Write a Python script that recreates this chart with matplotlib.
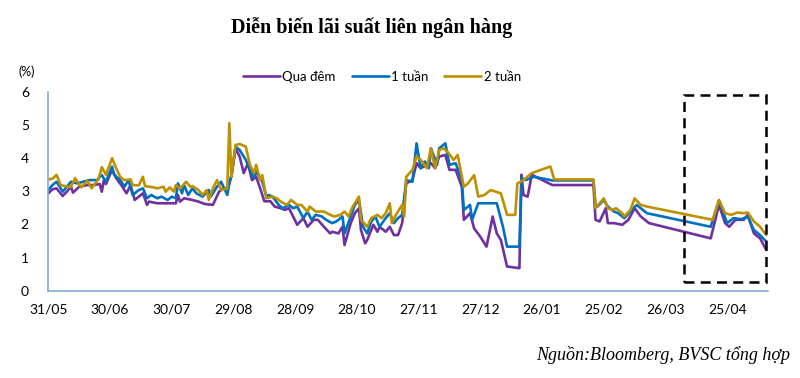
import numpy as np
import matplotlib
matplotlib.use('Agg')
import matplotlib.pyplot as plt
import matplotlib.dates as mdates
from matplotlib.patches import Rectangle

#### DATA (days counted from 31/05/2023)

start = np.datetime64('2023-05-31')

days_on = [0, 2, 4, 7, 9, 11, 12, 15, 19, 22, 25, 26, 27, 28, 31, 33, 36, 38, 40, 42, 45, 46, 48, 49,
	53, 56, 59, 62, 63, 64, 66, 70, 73, 76, 80, 83, 85, 87, 89, 91, 93, 95, 97, 99, 101, 103, 105,
	108, 110, 113, 115, 117, 119, 121, 124, 126, 129, 131, 134, 137, 138, 141, 143, 144, 147, 149,
	151, 152, 154, 155, 158, 160, 161, 164, 166, 168, 170, 172, 174, 177, 179, 181, 184, 186, 188,
	190, 193, 195, 198, 201, 202, 205, 207, 210, 213, 215, 216, 218, 220, 223, 229, 230, 231, 233,
	235, 245, 265, 266, 268, 271, 272, 275, 279, 282, 285, 288, 292, 322, 326, 329, 331, 334, 338,
	340, 343, 346, 349]
qua_dem = [2.94, 3.06, 3.09, 2.86, 2.99, 3.14, 2.96, 3.14, 3.19, 3.19, 3.22, 2.99, 3.34, 3.22, 3.65,
	3.40, 3.14, 2.94, 3.19, 2.74, 2.89, 2.94, 2.59, 2.69, 2.64, 2.64, 2.64, 2.64, 2.89, 2.69, 2.79,
	2.74, 2.69, 2.62, 2.59, 2.99, 3.09, 3.09, 3.44, 4.30, 4.05, 3.55, 3.85, 3.34, 3.44, 3.09, 2.70,
	2.70, 2.54, 2.49, 2.44, 2.49, 2.24, 1.99, 2.19, 1.93, 2.14, 2.14, 1.93, 1.73, 1.78, 1.73, 1.93,
	1.38, 2.04, 2.34, 2.49, 1.83, 1.43, 1.53, 1.99, 1.78, 1.93, 1.78, 1.93, 1.68, 1.68, 2.04, 3.24,
	3.34, 3.85, 3.70, 3.80, 3.85, 3.70, 4.05, 4.10, 3.65, 3.65, 3.14, 2.14, 2.34, 1.88, 1.63, 1.33,
	1.93, 2.24, 1.73, 1.53, 0.73, 0.68, 3.50, 2.89, 2.84, 3.50, 3.19, 3.19, 2.14, 2.09, 2.49, 2.04,
	2.04, 1.99, 2.14, 2.49, 2.24, 2.04, 1.58, 2.59, 2.04, 1.93, 2.14, 2.14, 2.29, 1.73, 1.58, 1.23]

days_1w = [0, 2, 4, 7, 9, 11, 14, 17, 20, 24, 25, 26, 28, 31, 32, 35, 37, 39, 41, 44, 46, 48, 50, 53,
	55, 58, 60, 62, 63, 65, 66, 68, 70, 72, 75, 78, 79, 82, 84, 87, 88, 89, 91, 93, 96, 98, 100, 101,
	104, 106, 107, 109, 112, 114, 117, 119, 121, 124, 126, 128, 130, 133, 135, 138, 140, 143, 144,
	147, 149, 151, 153, 155, 157, 159, 161, 164, 166, 168, 170, 172, 174, 177, 179, 181, 183, 185,
	186, 189, 190, 193, 195, 198, 201, 202, 205, 206, 209, 215, 218, 221, 223, 229, 230, 232, 236,
	245, 265, 266, 267, 270, 272, 275, 277, 280, 283, 286, 291, 322, 326, 330, 333, 337, 340, 343,
	346, 349]
mot_tuan = [3.04, 3.19, 3.29, 2.99, 3.14, 3.29, 3.24, 3.29, 3.34, 3.34, 3.44, 3.49, 3.29, 3.75, 3.50,
	3.34, 3.14, 3.34, 2.89, 3.04, 3.09, 2.79, 2.89, 2.79, 2.84, 2.74, 2.84, 2.79, 3.24, 2.94, 3.19,
	2.89, 3.09, 2.94, 2.84, 3.04, 2.84, 3.14, 3.29, 2.89, 3.24, 3.49, 4.35, 4.25, 3.95, 3.65, 3.40,
	3.60, 3.29, 2.84, 2.89, 2.84, 2.59, 2.49, 2.59, 2.49, 2.54, 2.19, 2.39, 2.14, 2.29, 2.24, 2.14,
	2.04, 2.09, 2.24, 1.73, 2.24, 2.59, 2.74, 1.93, 1.73, 2.09, 2.24, 1.93, 2.19, 2.34, 2.04, 2.19,
	2.29, 3.34, 3.29, 4.45, 3.70, 3.90, 3.70, 4.30, 3.80, 4.30, 4.45, 3.80, 3.85, 3.34, 2.44, 2.59,
	2.14, 2.64, 2.64, 2.64, 1.93, 1.33, 1.33, 3.40, 3.34, 3.44, 3.33, 3.33, 2.59, 2.54, 2.74, 2.54,
	2.39, 2.34, 2.19, 2.39, 2.59, 2.34, 1.93, 2.72, 2.04, 2.19, 2.16, 2.24, 1.83, 1.68, 1.48]

days_2w = [0, 2, 4, 6, 8, 11, 13, 16, 19, 21, 24, 25, 26, 28, 31, 33, 35, 37, 40, 41, 44, 46, 47, 51,
	53, 56, 57, 59, 61, 62, 64, 67, 69, 70, 73, 75, 77, 78, 80, 82, 84, 87, 88, 89, 91, 93, 96, 98,
	100, 101, 103, 104, 106, 109, 111, 113, 116, 118, 121, 123, 126, 127, 130, 132, 134, 137, 139,
	142, 144, 146, 148, 151, 152, 155, 157, 160, 162, 164, 166, 167, 169, 172, 173, 174, 177, 179,
	181, 184, 186, 188, 190, 192, 194, 197, 199, 202, 204, 207, 209, 212, 215, 220, 223, 227, 228,
	231, 235, 244, 246, 265, 266, 270, 272, 274, 276, 279, 280, 283, 285, 288, 291, 323, 326, 329,
	332, 335, 338, 340, 343, 346, 349]
hai_tuan = [3.36, 3.38, 3.50, 3.19, 3.16, 3.13, 3.40, 3.12, 3.32, 3.09, 3.34, 3.50, 3.73, 3.50, 4.00,
	3.70, 3.43, 3.34, 3.36, 3.19, 3.18, 3.44, 3.16, 3.12, 3.09, 3.14, 2.99, 3.12, 2.99, 3.19, 3.09,
	3.29, 3.14, 3.16, 3.04, 2.89, 3.04, 2.74, 3.09, 3.34, 3.04, 3.09, 5.06, 3.44, 4.40, 4.43, 4.35,
	3.80, 3.55, 3.80, 3.34, 3.49, 2.79, 2.84, 2.79, 2.69, 2.59, 2.74, 2.59, 2.59, 2.39, 2.54, 2.39,
	2.39, 2.39, 2.29, 2.24, 2.29, 2.39, 2.24, 2.54, 2.84, 2.14, 1.93, 2.19, 2.29, 2.19, 2.34, 2.64,
	2.04, 2.29, 2.59, 2.24, 3.44, 3.65, 4.05, 3.95, 3.70, 4.30, 3.70, 4.25, 4.30, 4.20, 3.95, 4.10,
	3.14, 3.24, 3.49, 2.84, 2.89, 3.04, 2.94, 2.29, 2.29, 3.24, 3.34, 3.55, 3.75, 3.36, 3.36, 2.49,
	2.79, 2.49, 2.44, 2.49, 2.34, 2.24, 2.44, 2.79, 2.59, 2.54, 2.14, 2.74, 2.34, 2.29, 2.36, 2.34,
	2.36, 2.09, 1.93, 1.68]

series = [('Qua đêm', days_on, qua_dem, '#7030A0'),
	('1 tuần', days_1w, mot_tuan, '#0070C0'),
	('2 tuần', days_2w, hai_tuan, '#BF9000')]

# highlighted period
box_start, box_end = 309, 349
box_low, box_high = 0.25, 5.9

#### PLOT

tick_font = 'Lato'
axis_color = '#7FAEDB'

fg = plt.figure(figsize=(8, 3.78), dpi=100)
ax = fg.add_axes([0.0604, 0.231, 0.9, 0.5256])

for name, d, v, col in series:
	dates = start + np.array(d).astype('timedelta64[D]')
	ax.plot(dates.astype('datetime64[ms]').astype(object), v, color=col, lw=1.9, label=name,
		solid_joinstyle='round', solid_capstyle='round')

x0 = (start + np.timedelta64(box_start, 'D')).astype(object)
x1 = (start + np.timedelta64(box_end, 'D')).astype(object)
x0n, x1n = mdates.date2num(x0), mdates.date2num(x1)
ax.add_patch(Rectangle((x0n, box_low), x1n - x0n, box_high - box_low, fill=False, ec='black',
	lw=1.8, ls=(0, (4, 2.5)), clip_on=False, zorder=5))

ticks = [(start + np.timedelta64(30*i, 'D')).astype(object) for i in range(12)]
ax.set_xticks(ticks)
ax.xaxis.set_major_formatter(mdates.DateFormatter('%d/%m'))
ax.set_xlim(start.astype(object), (start + np.timedelta64(350, 'D')).astype(object))
ax.set_ylim(0, 6)
ax.set_yticks(range(7))

for s in ['top', 'right']:
	ax.spines[s].set_visible(False)
for s in ['left', 'bottom']:
	ax.spines[s].set_color(axis_color)
	ax.spines[s].set_linewidth(1.2)

ax.tick_params(axis='both', length=0, labelsize=10)
ax.tick_params(axis='y', pad=14)
ax.tick_params(axis='x', pad=9)
for lab in ax.get_xticklabels() + ax.get_yticklabels():
	lab.set_fontfamily(tick_font)

fg.text(0.465, 1 - 28/378, 'Diễn biến lãi suất liên ngân hàng', ha='center', va='center',
	fontsize=14.5, fontweight='bold', family='Liberation Serif')
fg.text(27/800, 1 - 72/378, '(%)', ha='center', va='center', fontsize=9, family=tick_font)
fg.text(790/800, 1 - 355/378, 'Nguồn:Bloomberg, BVSC tổng hợp', ha='right', va='center',
	fontsize=13, style='italic', family='Liberation Serif')

leg = fg.legend(loc='center', bbox_to_anchor=(382/800, 1 - 77/378), ncol=3, frameon=False,
	handlelength=2.8, handletextpad=0.2, columnspacing=1.2, prop={'family': tick_font, 'size': 9.5})

plt.savefig('out.png', dpi=100)
